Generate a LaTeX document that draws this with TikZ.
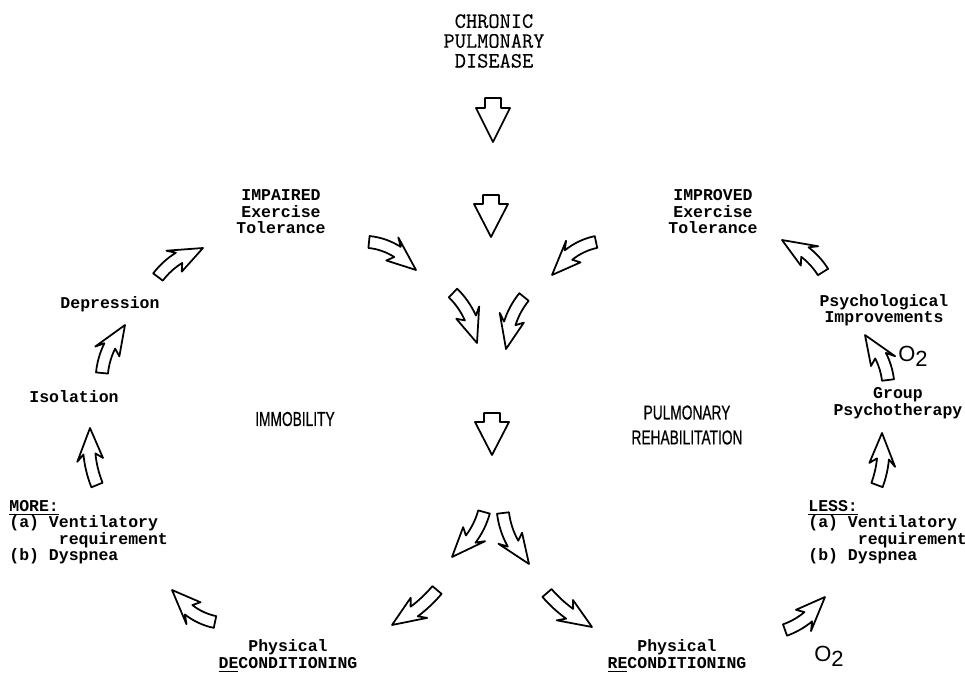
\documentclass[tikz,border=0pt]{standalone}
\usepackage{fontspec}
\setmonofont{Liberation Mono}
\newfontfamily\typewriter[FakeBold=0.4]{Latin Modern Mono}
\newfontfamily\narrowfont[FakeStretch=0.68,FakeBold=0.6]{Liberation Sans}
\newfontfamily\gasfont{Liberation Sans}

% sizes of the hollow arrows (in px units of the picture)
\newcommand\shaftw{6}
\newcommand\headw{13}
\newcommand\headlen{26}
\newcommand\barbback{6}
\newcommand\dropw{8}
\newcommand\droph{17}

% curved hollow arrow: tail x, tail y, tip x, tip y, bend (signed)
\newcommand\bentarrow[5]{%
	\pgfmathsetmacro\arrA{atan2(#4-#2,#3-#1)}%
	\pgfmathsetmacro\arrS{sign(#5)}%
	\pgfmathsetmacro\arrB{abs(#5)}%
	\pgfmathsetmacro\arrR{veclen(#3-#1,#4-#2)/(2*sin(\arrB))}%
	\pgfmathsetmacro\arrX{(#1+#3)/2-\arrS*\arrR*cos(\arrB)*sin(\arrA)}%
	\pgfmathsetmacro\arrY{(#2+#4)/2+\arrS*\arrR*cos(\arrB)*cos(\arrA)}%
	\pgfmathsetmacro\arrT{atan2(#2-\arrY,#1-\arrX)}%
	\pgfmathsetmacro\arrE{\arrT+\arrS*2*\arrB}%
	\pgfmathsetmacro\arrN{\arrE-\arrS*deg(\headlen/\arrR)}%
	\pgfmathsetmacro\arrK{\arrN-\arrS*deg(\barbback/\arrR)}%
	\pgfmathsetmacro\arrRo{\arrR+\shaftw}%
	\pgfmathsetmacro\arrRi{\arrR-\shaftw}%
	\pgfmathsetmacro\arrHo{\arrR+\headw}%
	\pgfmathsetmacro\arrHi{\arrR-\headw}%
	\begin{scope}[shift={(\arrX,\arrY)}]
		\draw[blockarrow] (\arrT:\arrRo) arc[start angle=\arrT, end angle=\arrN, radius=\arrRo]
			-- (\arrK:\arrHo) -- (\arrE:\arrR) -- (\arrK:\arrHi) -- (\arrN:\arrRi)
			arc[start angle=\arrN, end angle=\arrT, radius=\arrRi] -- cycle;
	\end{scope}}

% straight hollow arrow pointing down: x, top y, neck y, tip y
\newcommand\droparrow[4]{%
	\draw[blockarrow] (#1-\dropw,#2) -- (#1+\dropw,#2) -- (#1+\dropw,#3) -- (#1+\droph,#3)
		-- (#1,#4) -- (#1-\droph,#3) -- (#1-\dropw,#3) -- cycle;}

\begin{document}
\begin{tikzpicture}[x=0.02cm, y=0.02cm, yscale=-1,
	blockarrow/.style={draw=black, fill=white, line width=1pt, line join=round},
	lbl/.style={font=\fontsize{9.4}{9.4}\selectfont\ttfamily\bfseries, align=center, inner sep=0pt},
	lst/.style={lbl, align=left, anchor=north west},
	big/.style={font=\fontsize{11.5}{14.2}\selectfont\narrowfont, align=center, inner sep=0pt},
	gas/.style={font=\fontsize{12.5}{12.5}\selectfont\gasfont, inner sep=0pt}]
	\useasboundingbox (0,0) rectangle (965,677);

	% labels
	\node[lbl, font=\fontsize{12.4}{11.3}\selectfont\typewriter] (cpd) at (494,41) {CHRONIC\\PULMONARY\\DISEASE};
	\node[lbl] (impaired) at (281,212) {IMPAIRED\\Exercise\\Tolerance};
	\node[lbl] (improved) at (713,212) {IMPROVED\\Exercise\\Tolerance};
	\node[lbl] (depression) at (110,304) {Depression};
	\node[lbl] (isolation) at (74,397) {Isolation};
	\node[lst] (more) at (9,500) {\underline{MORE:}\\(a) Ventilatory\\\phantom{(a) V}requirement\\(b) Dyspnea};
	\node[big] (immob) at (295,419) {IMMOBILITY};
	\node[big] (rehab) at (687,425) {PULMONARY\\REHABILITATION};
	\node[lbl] (decond) at (288,656) {Physical\\\underline{DE}CONDITIONING};
	\node[lbl] (recond) at (677,656) {Physical\\\underline{RE}CONDITIONING};
	\node[lbl] (psych) at (884,310) {Psychological\\Improvements};
	\node[lbl] (group) at (898,403) {Group\\Psychotherapy};
	\node[lst] (less) at (808,500) {\underline{LESS:}\\(a) Ventilatory\\\phantom{(a) V}requirement\\(b) Dyspnea};
	\node[gas] (otop) at (913,356) {O\raisebox{-0.45ex}{2}};
	\node[gas] (obot) at (829,656) {O\raisebox{-0.45ex}{2}};

	% middle column
	\droparrow{493}{98}{108}{142}
	\droparrow{491}{195}{204}{237}
	\droparrow{492}{413}{422}{455}
	\bentarrow{369}{242}{416}{270}{25}
	\bentarrow{596}{242}{552}{275}{-25}
	\bentarrow{453}{293}{477}{343}{20}
	\bentarrow{524}{297}{506}{349}{-20}
	\bentarrow{484}{512}{452}{557}{20}
	\bentarrow{503}{513}{529}{564}{-20}
	\bentarrow{437}{590}{392}{625}{12}
	\bentarrow{547}{593}{592}{627}{-12}

	% left loop
	\bentarrow{215}{622}{172}{590}{25}
	\bentarrow{97}{485}{90}{428}{15}
	\bentarrow{102}{373}{125}{325}{20}
	\bentarrow{158}{277}{203}{248}{20}

	% right loop
	\bentarrow{785}{630}{825}{597}{-20}
	\bentarrow{877}{485}{882}{433}{-15}
	\bentarrow{888}{380}{865}{335}{-20}
	\bentarrow{823}{272}{782}{240}{-20}
\end{tikzpicture}
\end{document}
